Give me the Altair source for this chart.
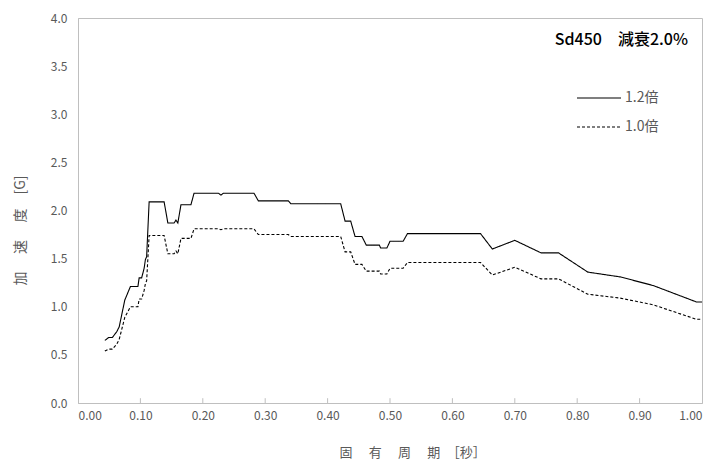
import altair as alt
import pandas as pd

period = [0.043, 0.049, 0.055, 0.062, 0.066, 0.075, 0.084, 0.096, 0.098, 0.102,
          0.106, 0.108, 0.110, 0.114, 0.138, 0.144, 0.154, 0.157, 0.160, 0.165,
          0.181, 0.186, 0.225, 0.229, 0.233, 0.282, 0.289, 0.337, 0.341, 0.421,
          0.428, 0.437, 0.444, 0.455, 0.462, 0.483, 0.485, 0.495, 0.500, 0.521,
          0.528, 0.645, 0.664, 0.700, 0.742, 0.770, 0.817, 0.869, 0.922, 0.991,
          1.000]
acc_12 = [0.65, 0.68, 0.68, 0.74, 0.79, 1.07, 1.21, 1.21, 1.30, 1.30,
          1.40, 1.49, 1.52, 2.09, 2.09, 1.87, 1.87, 1.90, 1.87, 2.06,
          2.06, 2.18, 2.18, 2.16, 2.18, 2.18, 2.10, 2.10, 2.07, 2.07,
          1.89, 1.89, 1.73, 1.73, 1.64, 1.64, 1.61, 1.61, 1.68, 1.68,
          1.76, 1.76, 1.60, 1.69, 1.56, 1.56, 1.36, 1.31, 1.22, 1.05,
          1.05]
acc_10 = [0.54, 0.56, 0.56, 0.61, 0.66, 0.89, 1.00, 1.00, 1.08, 1.08,
          1.17, 1.24, 1.27, 1.74, 1.74, 1.55, 1.55, 1.58, 1.55, 1.71,
          1.71, 1.81, 1.81, 1.80, 1.81, 1.81, 1.75, 1.75, 1.73, 1.73,
          1.57, 1.57, 1.44, 1.44, 1.37, 1.37, 1.34, 1.34, 1.40, 1.40,
          1.46, 1.46, 1.33, 1.41, 1.29, 1.29, 1.13, 1.09, 1.02, 0.87,
          0.87]
series_names = ["1.2倍", "1.0倍"]
x_ticks = [0.1, 0.2, 0.3, 0.4, 0.5, 0.6, 0.7, 0.8, 0.9]
annotation = "Sd450\u3000減衰2.0%"
x_title = "固\u3000\u2005有\u3000\u2005周\u3000\u2005期\u3000［秒］"
y_title = "加\u3000\u2005速\u3000\u2005度\u3000[G]"

rows = []
for name, vals in zip(series_names, [acc_12, acc_10]):
    for i, (p, a) in enumerate(zip(period, vals)):
        rows.append({"series": name, "period": p, "acc": a, "order": i})
df = pd.DataFrame(rows)

FONT = "Noto Sans CJK JP"
GRAY = "#595959"
AXC = "#bfbfbf"

xs = alt.Scale(domain=[0, 1], nice=False, zero=False)
ys = alt.Scale(domain=[0, 4], nice=False)
dash = alt.Scale(domain=series_names, range=[[1, 0], [3, 2]])

lines = alt.Chart(df).mark_line(color="black", strokeWidth=1.1).encode(
    x=alt.X("period:Q", scale=xs,
            axis=alt.Axis(values=[0, 0.1, 0.2, 0.3, 0.4, 0.5, 0.6, 0.7, 0.8, 0.9, 1.0],
                          format=".2f", title=x_title, ticks=False,
                          labelPadding=7, titleX=334, titleY=49, titleBaseline="middle",
                          titleAnchor="start", titleAlign="center", titleFontSize=13)),
    y=alt.Y("acc:Q", scale=ys,
            axis=alt.Axis(values=[0, 0.5, 1, 1.5, 2, 2.5, 3, 3.5, 4], format=".1f",
                          title=y_title, ticks=False, labelPadding=11,
                          titleX=-58, titleY=212, titleAlign="center",
                          titleBaseline="middle", titleFontSize=14)),
    strokeDash=alt.StrokeDash("series:N", scale=dash, legend=None),
    order="order:Q",
    detail="series:N",
)

tick_df = pd.DataFrame({"x": x_ticks, "y0": [0.0] * len(x_ticks), "y1": [0.05] * len(x_ticks)})
ticks = alt.Chart(tick_df).mark_rule(color=AXC, strokeWidth=1).encode(
    x=alt.X("x:Q", scale=xs), y=alt.Y("y0:Q", scale=ys), y2="y1:Q"
)

ann = alt.Chart(pd.DataFrame({"t": [annotation]})).mark_text(
    font=FONT, fontSize=16, fontWeight=500, align="right", baseline="middle", color="black"
).encode(text="t:N", x=alt.value(610), y=alt.value(22))

leg_df = pd.DataFrame({"series": series_names, "yy": [80, 109]})
leg_lines = alt.Chart(leg_df).mark_rule(color="black", strokeWidth=1.1).encode(
    x=alt.value(499), x2=alt.value(543), y=alt.Y("yy:Q", scale=None),
    strokeDash=alt.StrokeDash("series:N", scale=dash, legend=None),
)
leg_text = alt.Chart(leg_df).mark_text(
    font=FONT, fontSize=14, align="left", baseline="middle", color=GRAY
).encode(x=alt.value(547), y=alt.Y("yy:Q", scale=None), text="series:N")

chart = alt.layer(lines, ticks, ann, leg_lines, leg_text).properties(
    width=624, height=385,
    autosize=alt.AutoSizeParams(type="none"),
    padding={"left": 70, "top": 10, "right": 6, "bottom": 58},
).configure_view(stroke=AXC, strokeWidth=1).configure_axis(
    grid=False, domainColor=AXC, labelColor=GRAY, titleColor=GRAY,
    labelFont=FONT, titleFont=FONT, labelFontSize=12,
    titleFontWeight="normal"
)

chart.save("out.html", embed_options={"renderer": "svg", "actions": False})
